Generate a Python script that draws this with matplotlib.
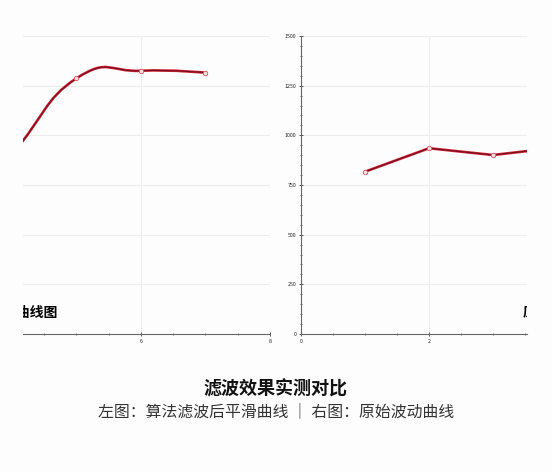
#!/usr/bin/env python3
import matplotlib
matplotlib.use('Agg')
import matplotlib.pyplot as plt
from matplotlib.path import Path
from matplotlib.patches import PathPatch
from matplotlib.ticker import MultipleLocator

plt.rcParams['font.family'] = ['Noto Sans CJK SC', 'DejaVu Sans']

# left chart: filtered (smooth) curve
smooth_x = [3, 4, 5, 6, 7]
smooth_y = [540, 905, 1287, 1325, 1315]
# right chart: raw curve
raw_x = [1, 2, 3, 4]
raw_y = [817, 935, 901, 938]

y_ticks = [0, 250, 500, 750, 1000, 1250, 1500]
title = '滤波效果实测对比'
subtitle = '左图：算法滤波后平滑曲线 ｜ 右图：原始波动曲线'
left_name = '平滑曲线图'
right_name = '原始曲线图'

W, H = 552, 472
LINE_RED = '#d42030'
LINE_DARK = '#6e1020'


def px_axes(fig, x0, x1, ytop, ybot):
    return fig.add_axes([x0 / W, 1 - ybot / H, (x1 - x0) / W, (ybot - ytop) / H])


def smooth_path(xs, ys, smooth=0.5):
    # bezier smoothing like echarts' smooth line
    pts = list(zip(xs, ys))
    n = len(pts)
    verts = [pts[0]]
    codes = [Path.MOVETO]
    for i in range(n - 1):
        p0 = pts[i - 1] if i > 0 else pts[i]
        p1 = pts[i]
        p2 = pts[i + 1]
        p3 = pts[i + 2] if i + 2 < n else pts[i + 1]
        if i > 0:
            c1 = (p1[0] + smooth * (p2[0] - p0[0]) / 2, p1[1] + smooth * (p2[1] - p0[1]) / 2)
        else:
            c1 = p1
        if i + 2 < n:
            c2 = (p2[0] - smooth * (p3[0] - p1[0]) / 2, p2[1] - smooth * (p3[1] - p1[1]) / 2)
        else:
            c2 = p2
        verts += [c1, c2, p2]
        codes += [Path.CURVE4] * 3
    return Path(verts, codes)


def style_axes(ax, show_left):
    ax.set_ylim(0, 1500)
    ax.set_yticks(y_ticks)
    ax.yaxis.set_minor_locator(MultipleLocator(50))
    ax.xaxis.set_major_locator(MultipleLocator(2))
    ax.xaxis.set_minor_locator(MultipleLocator(0.5))
    ax.grid(True, which='major', color='#ececec', lw=0.8)
    ax.set_axisbelow(True)
    for s in ['top', 'right']:
        ax.spines[s].set_visible(False)
    ax.spines['bottom'].set_color('#666666')
    ax.spines['left'].set_color('#666666')
    ax.spines['left'].set_visible(show_left)
    ax.tick_params(which='both', direction='inout', colors='#555555', labelsize=3.8,
                   labelcolor='#222222', pad=2)
    ax.tick_params(which='major', length=3, width=0.7)
    ax.tick_params(which='minor', length=2, width=0.6)
    if not show_left:
        ax.tick_params(axis='y', which='both', left=False, labelleft=False)
    ax.set_facecolor('none')


fig = plt.figure(figsize=(W / 100, H / 100), dpi=100)
fig.patch.set_facecolor('#fdfdfd')

# left panel (cropped view)
ax1 = px_axes(fig, 23, 270, 36, 334)
style_axes(ax1, show_left=False)
ax1.set_xlim(6 - 118 / 64.5, 8)
path = smooth_path(smooth_x, smooth_y)
ax1.add_patch(PathPatch(path, fill=False, ec=LINE_RED, lw=1.9, capstyle='round'))
ax1.add_patch(PathPatch(path, fill=False, ec=LINE_DARK, lw=0.8))
ax1.plot(smooth_x, smooth_y, 'o', ms=3.2, mfc='#fbe0e0', mec='#e05060', mew=0.6)
ax1.text(58 / W, 1 - 313 / H, left_name, transform=fig.transFigure, ha='right',
         va='center', fontsize=10, fontweight='bold', color='black', clip_on=True,
         clip_box=ax1.bbox)

# right panel (cropped view)
ax2 = px_axes(fig, 301, 527, 36, 334)
style_axes(ax2, show_left=True)
ax2.set_xlim(0, 226 / 64)
ax2.plot(raw_x, raw_y, '-', color=LINE_RED, lw=1.9, solid_capstyle='round')
ax2.plot(raw_x, raw_y, '-', color=LINE_DARK, lw=0.8)
ax2.plot(raw_x, raw_y, 'o', ms=3.2, mfc='#fbe0e0', mec='#e05060', mew=0.6)
t = ax2.text(523 / W, 1 - 313 / H, right_name, transform=fig.transFigure, ha='left',
             va='center', fontsize=10, fontweight='bold', color='black', clip_on=True)
t.set_clip_box(ax2.bbox)

fig.text(0.5, 1 - 389 / H, title, ha='center', va='center', fontsize=13,
         fontweight='bold', color='#111111')
fig.text(0.5, 1 - 412 / H, subtitle, ha='center', va='center', fontsize=11.4,
         color='#333333')

fig.savefig('out.png', dpi=100, facecolor=fig.get_facecolor())
